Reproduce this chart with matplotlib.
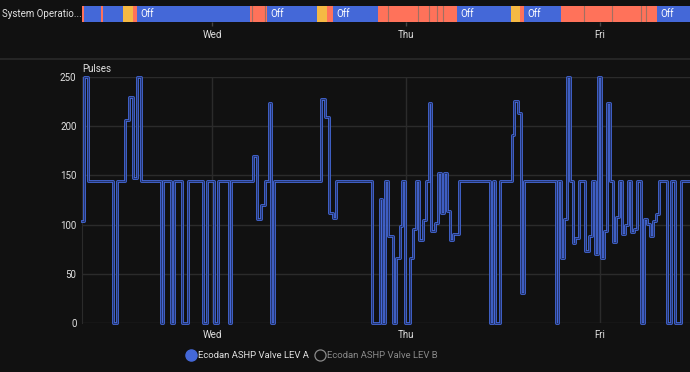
#!/usr/bin/env python3
"""Ecodan ASHP valve LEV A history with system operation timeline."""

import matplotlib
matplotlib.use('Agg')
import matplotlib.pyplot as plt
import matplotlib.patheffects as pe
from matplotlib.lines import Line2D

plt.rcParams['font.family'] = ['Roboto', 'DejaVu Sans']

BG = '#111111'
GRID = '#2b2b2b'
TEXT = '#e1e1e1'
BLUE = '#4468d8'
RED = '#ff725a'
YELLOW = '#f5b944'

# hours since Tue 00:00
X_END = 83.13
day_ticks = [24, 48, 72]
day_labels = ['Wed', 'Thu', 'Fri']

# timeline: segment start (h) and state
tl_start = [7.92, 8.16, 10.27, 10.52, 12.99, 14.23, 14.72, 28.70, 28.98, 30.56,
            30.80, 36.99, 38.23, 38.97, 44.54, 45.73, 49.52, 50.88, 51.87, 52.61,
            54.31, 60.99, 62.10, 62.60, 67.17, 70.06, 73.45, 77.03, 77.69, 79.05]
tl_state = ['Heating', 'Off', 'Heating', 'Off', 'Hot Water', 'Heating', 'Off',
            'Heating', 'Heating', 'Heating', 'Off', 'Hot Water', 'Heating', 'Off',
            'Heating', 'Heating', 'Heating', 'Heating', 'Heating', 'Heating',
            'Off', 'Hot Water', 'Heating', 'Off',
            'Heating', 'Heating', 'Heating', 'Heating', 'Heating', 'Off']
state_colors = {'Off': BLUE, 'Heating': RED, 'Hot Water': YELLOW}

# LEV A pulses, step changes (h, value)
lev_t = [7.95, 8.20, 8.62, 11.72, 12.28, 13.27, 13.77, 14.26, 14.72, 15.22,
         17.65, 17.97, 18.93, 19.30, 20.29, 21.03, 22.92, 23.34, 24.28, 24.70,
         26.14, 26.35, 29.03, 29.53, 30.02, 30.52, 31.05, 31.26, 31.63, 37.45,
         37.98, 38.44, 38.93, 39.38, 43.83, 44.75, 45.07, 45.40, 45.81, 46.43,
         46.73, 47.22, 47.54, 47.84, 48.53, 48.90, 49.27, 49.64, 50.06, 50.47,
         50.85, 51.13, 51.55, 51.96, 52.29, 52.66, 53.07, 53.44, 53.85, 54.59,
         58.39, 58.73, 58.97, 59.59, 61.08, 61.40, 61.85, 62.19, 62.60, 66.56,
         66.80, 67.14, 67.54, 67.88, 68.29, 68.66, 68.94, 69.40, 70.18, 70.60,
         71.01, 71.34, 71.71, 72.09, 72.46, 72.83, 73.27, 73.57, 73.98, 74.35,
         74.72, 75.09, 75.50, 75.83, 76.17, 76.61, 77.03, 77.44, 77.81, 78.18,
         78.59, 78.96, 79.33, 80.32, 80.74, 81.26, 82.06]
lev_v = [104, 250, 144, 0, 144, 206, 230, 147, 250, 144,
         0, 144, 0, 144, 0, 144, 0, 144, 0, 144,
         0, 144, 170, 106, 120, 144, 224, 0, 144, 228,
         209, 112, 107, 144, 0, 126, 0, 144, 88, 0,
         66, 99, 144, 0, 66, 96, 144, 84, 105, 144,
         224, 94, 102, 152, 112, 152, 114, 84, 90, 144,
         0, 144, 0, 144, 191, 226, 213, 30, 144, 0,
         144, 66, 106, 250, 144, 81, 86, 144, 73, 88,
         144, 70, 250, 66, 93, 224, 144, 82, 108, 144,
         90, 100, 144, 92, 96, 144, 0, 106, 101, 88,
         104, 111, 144, 0, 144, 0, 144]


def main():
    W, H = 690, 372
    fig = plt.figure(figsize=(W / 100, H / 100), dpi=100, facecolor=BG)

    # --- timeline strip ---
    axt = fig.add_axes([82 / W, 1 - 22 / H, (W - 82) / W, 16 / H])
    axt.set_facecolor(BG)
    ends = tl_start[1:] + [X_END]
    for i, (s, e, st) in enumerate(zip(tl_start, ends, tl_state)):
        axt.axvspan(s, e, color=state_colors[st], lw=0)
        if i > 0 and tl_state[i - 1] == st:
            axt.axvline(s, color='#a07062', lw=0.8)
        if st == 'Off' and e - s > 2.5:
            axt.text(s + 0.4, 0.5, 'Off', color='white', fontsize=7,
                     va='center', ha='left', transform=axt.get_xaxis_transform())
    axt.set_xlim(tl_start[0], X_END)
    axt.set_ylim(0, 1)
    axt.set_yticks([])
    axt.set_xticks(day_ticks, day_labels)
    axt.tick_params(axis='x', colors='#444444', labelcolor=TEXT, length=3,
                    width=1, pad=2.5, labelsize=7)
    for sp in axt.spines.values():
        sp.set_visible(False)
    fig.text(2 / W, 1 - 14 / H, 'System Operatio...', color=TEXT, fontsize=7,
             va='center', ha='left')

    # separator
    fig.add_artist(Line2D([0, 1], [1 - 59 / H] * 2, color='#2a2a2a', lw=1.2,
                          transform=fig.transFigure))

    # --- main chart ---
    ax = fig.add_axes([82 / W, 1 - 323 / H, (W - 82) / W, 246 / H])
    ax.set_facecolor(BG)
    ax.step(lev_t + [X_END], lev_v + [lev_v[-1]], where='post', color=BLUE,
            lw=2.0, clip_on=False, zorder=3,
            path_effects=[pe.Stroke(linewidth=2.0, foreground=BLUE),
                          pe.Stroke(linewidth=0.55, foreground='#1d2850')])
    ax.set_xlim(tl_start[0], X_END)
    ax.set_ylim(0, 250)
    ax.set_yticks([0, 50, 100, 150, 200, 250])
    ax.set_xticks(day_ticks, day_labels)
    ax.grid(True, color=GRID, lw=1)
    ax.set_axisbelow(True)
    ax.tick_params(colors=TEXT, length=0, labelsize=7)
    ax.tick_params(axis='y', pad=4)
    ax.tick_params(axis='x', pad=5)
    for name, sp in ax.spines.items():
        if name == 'left':
            sp.set_color(GRID)
        else:
            sp.set_visible(False)
    ax.text(0, 1.012, 'Pulses', transform=ax.transAxes, color=TEXT,
            fontsize=7, ha='left', va='bottom')

    # --- legend ---
    handles = [
        Line2D([], [], ls='none', marker='o', ms=8, mfc=BLUE, mec=BLUE),
        Line2D([], [], ls='none', marker='o', ms=8, mfc='none', mec='#8a8a8a',
               mew=0.9),
    ]
    leg = fig.legend(handles, ['Ecodan ASHP Valve LEV A', 'Ecodan ASHP Valve LEV B'],
                     loc='center', bbox_to_anchor=(312 / W, 1 - 356 / H), ncol=2,
                     frameon=False, fontsize=6.8, handletextpad=0.3,
                     columnspacing=0.6, handlelength=1.0)
    leg.get_texts()[0].set_color(TEXT)
    leg.get_texts()[1].set_color('#8a8a8a')

    fig.savefig('out.png', dpi=100, facecolor=BG)


if __name__ == '__main__':
    main()
